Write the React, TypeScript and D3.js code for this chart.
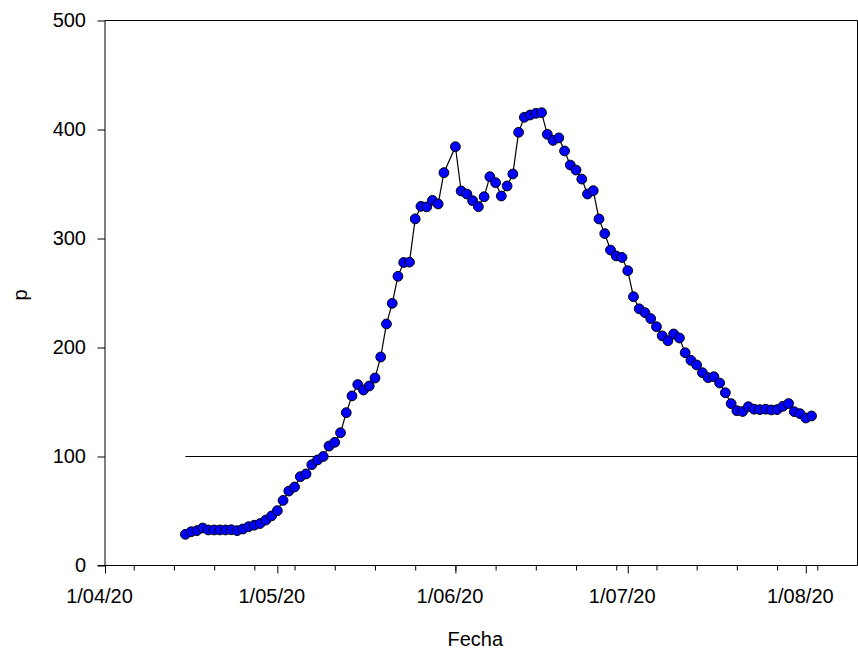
import React, { useEffect, useRef } from 'react';
import * as d3 from 'd3';

// p por día (2020)
const diasAbril = [15, 16, 17, 18, 19, 20, 21, 22, 23, 24, 25, 26, 27, 28, 29, 30];
const pAbril = [28.6, 31, 32, 34.4, 32.6, 32.6, 32.6, 32.6, 32.8, 32, 33.5, 35.6, 37, 38.5, 41.7, 45.5];

const diasMayo = [1, 2, 3, 4, 5, 6, 7, 8, 9, 10, 11, 12, 13, 14, 15, 16, 17, 18, 19, 20, 21, 22, 23, 24, 25, 26, 27, 28, 29, 30];
const pMayo = [50.3, 59.7, 68.3, 72, 81.5, 84, 92.5, 96.8, 100, 109.6, 113, 121.8, 140.2, 155.6, 166, 161, 164.7, 172, 191.3, 221.6, 240.5, 265.3, 278, 278.3, 318, 329.5, 329, 335, 331.7, 360.4];

const diasJunio = [1, 2, 3, 4, 5, 6, 7, 8, 9, 10, 11, 12, 13, 14, 15, 16, 17, 18, 19, 20, 21, 22, 23, 24, 25, 26, 27, 28, 29, 30];
const pJunio = [384.2, 343.6, 340.8, 334.7, 329.2, 338.3, 356.7, 351.2, 339, 348.2, 359.2, 397.4, 411.2, 413.3, 414.8, 415.4, 395.6, 390, 392.3, 380.3, 367.4, 362.8, 354.5, 340.8, 343.9, 317.9, 304.5, 289.4, 284, 282.6];

const diasJulio = [1, 2, 3, 4, 5, 6, 7, 8, 9, 10, 11, 12, 13, 14, 15, 16, 17, 18, 19, 20, 21, 22, 23, 24, 25, 26, 27, 28, 29, 30, 31];
const pJulio = [270.5, 246.6, 235.5, 232, 226.5, 219.1, 210.7, 206.2, 212.4, 208.7, 195.2, 188.2, 184, 176.9, 172.3, 173.2, 167.4, 158.5, 148.5, 142, 141.3, 145.7, 143.4, 143, 143.4, 142.7, 143, 146, 148.6, 141.1, 139.3];

const diasAgosto = [1, 2];
const pAgosto = [135.3, 137.2];

const umbral = 100;
const yTicks = [0, 100, 200, 300, 400, 500];

const W = 858;
const H = 654;

const App = () => {
  const ref = useRef(null);

  useEffect(() => {
    const meses = [
      [3, diasAbril, pAbril],
      [4, diasMayo, pMayo],
      [5, diasJunio, pJunio],
      [6, diasJulio, pJulio],
      [7, diasAgosto, pAgosto],
    ];
    const data = meses.flatMap(([m, dias, vals]) =>
      dias.map((d, i) => ({ fecha: new Date(2020, m, d), p: vals[i] })));

    const inicio = new Date(2020, 3, 1);
    const fin = new Date(2020, 7, 10);

    const left = 105, right = 857.5, top = 20.5, bottom = 565.5;

    const x = d3.scaleTime().domain([inicio, fin]).range([left, right]);
    const y = d3.scaleLinear().domain([0, 500]).range([bottom, top]);

    const svg = d3.select(ref.current);
    svg.selectAll('*').remove();

    const font = "'Liberation Sans', Arial, sans-serif";

    // marco
    svg.append('path')
      .attr('d', `M${left},${top}H${right}V${bottom}`)
      .attr('fill', 'none')
      .attr('stroke', '#000')
      .attr('stroke-width', 1);

    // eje x: meses (mayores) y lunes (menores)
    const fmt = d3.timeFormat('%-d/%m/%y');
    const gxMinor = svg.append('g')
      .attr('transform', `translate(0,${bottom})`)
      .call(d3.axisBottom(x).tickValues(d3.timeMonday.range(inicio, fin)).tickSize(5).tickFormat(() => ''));
    gxMinor.select('.domain').remove();

    const gx = svg.append('g')
      .attr('transform', `translate(0,${bottom})`)
      .call(d3.axisBottom(x)
        .tickValues(d3.timeMonth.range(inicio, fin))
        .tickSize(8)
        .tickPadding(15.6)
        .tickFormat(fmt));
    gx.select('.domain').attr('d', `M${left - 7.5},0H${right}`);
    gx.selectAll('text').attr('dx', -6);

    // eje y
    const gy = svg.append('g')
      .attr('transform', `translate(${left},0)`)
      .call(d3.axisLeft(y).tickValues(yTicks).tickSize(7.5).tickPadding(11.5));
    gy.select('.domain').attr('d', `M0,${top}V${bottom}`);

    svg.selectAll('.tick line').attr('stroke', '#000');
    svg.selectAll('.domain').attr('stroke', '#000');
    svg.selectAll('.tick text')
      .attr('fill', '#000')
      .style('font-family', font)
      .style('font-size', '20px');

    // línea horizontal p = 100
    svg.append('line')
      .attr('x1', x(data[0].fecha))
      .attr('x2', right)
      .attr('y1', y(umbral))
      .attr('y2', y(umbral))
      .attr('stroke', '#000')
      .attr('stroke-width', 1.2);

    // serie
    const line = d3.line()
      .x(d => x(d.fecha))
      .y(d => y(d.p));

    svg.append('path')
      .datum(data)
      .attr('d', line)
      .attr('fill', 'none')
      .attr('stroke', '#000')
      .attr('stroke-width', 1.2);

    svg.append('g')
      .selectAll('circle')
      .data(data)
      .join('circle')
        .attr('cx', d => x(d.fecha))
        .attr('cy', d => y(d.p))
        .attr('r', 4.9)
        .attr('fill', '#0000ff')
        .attr('stroke', '#000')
        .attr('stroke-width', 1);

    // títulos de ejes
    svg.append('text')
      .attr('x', (left + right) / 2 - 6)
      .attr('y', 646)
      .attr('text-anchor', 'middle')
      .style('font-family', font)
      .style('font-size', '20px')
      .text('Fecha');

    svg.append('text')
      .attr('transform', `translate(27,295) rotate(-90)`)
      .attr('text-anchor', 'middle')
      .style('font-family', font)
      .style('font-size', '20px')
      .text('p');
  }, []);

  return (
    <svg
      ref={ref}
      width={W}
      height={H}
      style={{ position: 'absolute', left: 0, top: 0, background: '#fff' }}
    />
  );
};

export default App;
